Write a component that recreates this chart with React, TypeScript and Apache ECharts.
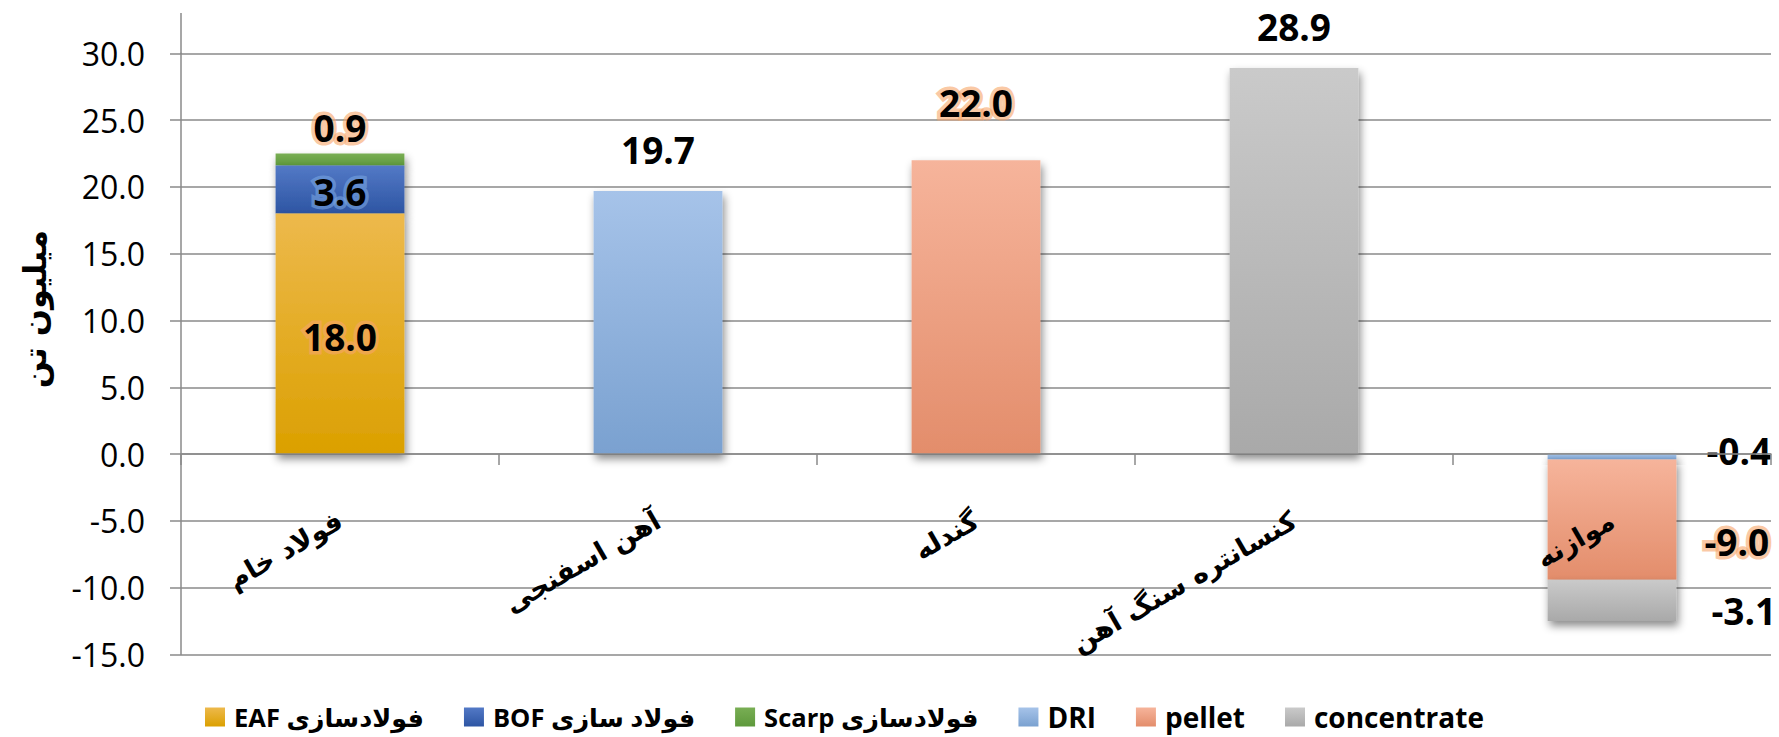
import React, { useEffect, useRef } from 'react';
import * as echarts from 'echarts';

// ---------- data ----------
const categories = ['فولاد خام', 'آهن اسفنجی', 'گندله', 'کنسانتره سنگ آهن', 'موازنه'];
const seriesNames = ['فولادسازی EAF', 'فولاد سازی BOF', 'فولادسازی Scarp', 'DRI', 'pellet', 'concentrate'];
const eafValues = [18.0, null, null, null, null];
const bofValues = [3.6, null, null, null, null];
const scrapValues = [0.9, null, null, null, null];
const driValues = [null, 19.7, null, null, -0.4];
const pelletValues = [null, null, 22.0, null, -9.0];
const concentrateValues = [null, null, null, 28.9, -3.1];
const yMin = -15;
const yMax = 30;
const yInterval = 5;
const yAxisTitle = 'میلیون تن';

// ---------- layout / styles ----------
const GRID_TOP = 53.3;
const GRID_BOTTOM = 82.5;
const CHART_H = 737;
const GRID = '#8a8a8a';
const LATIN = "'Open Sans', 'DejaVu Sans', sans-serif";
const PERSIAN = "'DejaVu Sans', sans-serif";

const ORANGE_GLOW = { textBorderColor: 'rgba(247,165,105,0.6)', textBorderWidth: 7 };
const BLUE_GLOW = { textBorderColor: 'rgba(120,165,225,0.6)', textBorderWidth: 7 };
const NO_GLOW = { textBorderWidth: 0 };

const colors: [string, string][] = [
  ['#EDB94C', '#DBA000'],
  ['#5379C6', '#2D55A3'],
  ['#79AE54', '#5E993C'],
  ['#A6C3E9', '#7AA1D0'],
  ['#F6B49B', '#E38D6B'],
  ['#CACACA', '#A9A9A9'],
];

const zOrder = [6, 5, 4, 4, 5, 6];

// per-point label placement (index -> label options)
const labelPlacement: Record<number, any>[] = [
  { 0: { position: 'inside', offset: [0, 3], ...ORANGE_GLOW } },
  { 0: { position: 'inside', offset: [0, 2], ...BLUE_GLOW } },
  { 0: { position: 'top', distance: 6, ...ORANGE_GLOW } },
  { 1: { position: 'top', distance: 21, ...NO_GLOW }, 4: { position: 'right', distance: 30, offset: [0, -6], ...NO_GLOW } },
  { 2: { position: 'top', distance: 38, ...ORANGE_GLOW }, 4: { position: 'right', distance: 28, offset: [0, 22], ...ORANGE_GLOW } },
  { 3: { position: 'top', distance: 21, ...NO_GLOW }, 4: { position: 'right', distance: 35, offset: [0, 10], ...NO_GLOW } },
];

const allValues = [eafValues, bofValues, scrapValues, driValues, pelletValues, concentrateValues];

function buildSeries() {
  return seriesNames.map((name, si) => {
    const [top, bottom] = colors[si];
    return {
      name,
      type: 'bar',
      stack: 'total',
      barWidth: '40.5%',
      z: zOrder[si],
      itemStyle: {
        color: new echarts.graphic.LinearGradient(0, 0, 0, 1, [
          { offset: 0, color: top },
          { offset: 1, color: bottom },
        ]),
        shadowBlur: 8,
        shadowColor: 'rgba(0,0,0,0.45)',
        shadowOffsetX: 2,
        shadowOffsetY: 5,
      },
      data: allValues[si].map((v, i) => {
        if (v === null) return '-';
        return {
          value: v,
          label: {
            show: true,
            color: '#000',
            fontFamily: LATIN,
            fontWeight: 'bold',
            fontSize: 37,
            lineHeight: 40,
            formatter: (p: any) => Number(p.value).toFixed(1),
            ...(labelPlacement[si][i] || {}),
          },
        };
      }),
    };
  });
}

export default function App() {
  const ref = useRef<HTMLDivElement>(null);
  useEffect(() => {
    if (!ref.current) return;
    const chart = echarts.init(ref.current, null, { renderer: 'svg' });
    const gridH = CHART_H - GRID_TOP - GRID_BOTTOM;
    // place the category axis on the value 0 of the value scale
    const zeroOffset = -((0 - yMin) / (yMax - yMin)) * gridH;
    chart.setOption({
      animation: false,
      backgroundColor: '#fff',
      grid: {
        left: 181,
        right: 8,
        top: GRID_TOP,
        bottom: GRID_BOTTOM,
        containLabel: false,
        outerBoundsMode: 'none',
      },
      legend: {
        data: seriesNames.map((n) => ({
          name: n,
          textStyle: /[\u0600-\u06FF]/.test(n) ? { fontSize: 25.5 } : { fontSize: 28 },
        })),
        left: 200,
        top: 698,
        icon: 'rect',
        itemWidth: 20,
        itemHeight: 19,
        itemGap: 40,
        formatter: (n: string) => '\u2067' + n + '\u2069',
        textStyle: { fontFamily: LATIN, fontWeight: 'bold', fontSize: 28, color: '#000', padding: [0, 0, 0, 4] },
      },
      xAxis: {
        type: 'category',
        data: categories,
        z: 10,
        position: 'bottom',
        offset: zeroOffset,
        axisLine: { onZero: false, lineStyle: { color: GRID, width: 1.5 } },
        axisTick: { show: true, length: 11, lineStyle: { color: GRID, width: 1.5 } },
        axisLabel: {
          rotate: 30,
          margin: 64,
          interval: 0,
          color: '#000',
          fontFamily: PERSIAN,
          fontWeight: 'bold',
          fontSize: 27,
        },
      },
      yAxis: {
        type: 'value',
        min: yMin,
        max: yMax,
        interval: yInterval,
        axisLine: { show: true, lineStyle: { color: GRID, width: 1.5 } },
        axisTick: { show: true, length: 11, lineStyle: { color: GRID, width: 1.5 } },
        splitLine: { show: true, lineStyle: { color: GRID, width: 1.5 } },
        axisLabel: {
          margin: 36,
          color: '#000',
          fontFamily: LATIN,
          fontSize: 32,
          formatter: (v: number) => v.toFixed(1),
        },
      },
      graphic: [
        {
          type: 'line',
          shape: { x1: 181, y1: 13, x2: 181, y2: 54 },
          style: { stroke: GRID, lineWidth: 1.5 },
        },
        {
          type: 'text',
          x: 35,
          y: 309,
          rotation: Math.PI / 2,
          style: {
            text: yAxisTitle,
            fill: '#000',
            font: "bold 32px 'DejaVu Sans', sans-serif",
            textAlign: 'center',
            textVerticalAlign: 'middle',
          },
        },
      ],
      series: buildSeries(),
    });
    return () => chart.dispose();
  }, []);
  return <div ref={ref} style={{ position: 'absolute', left: 0, top: 0, width: 1779, height: 737 }} />;
}
